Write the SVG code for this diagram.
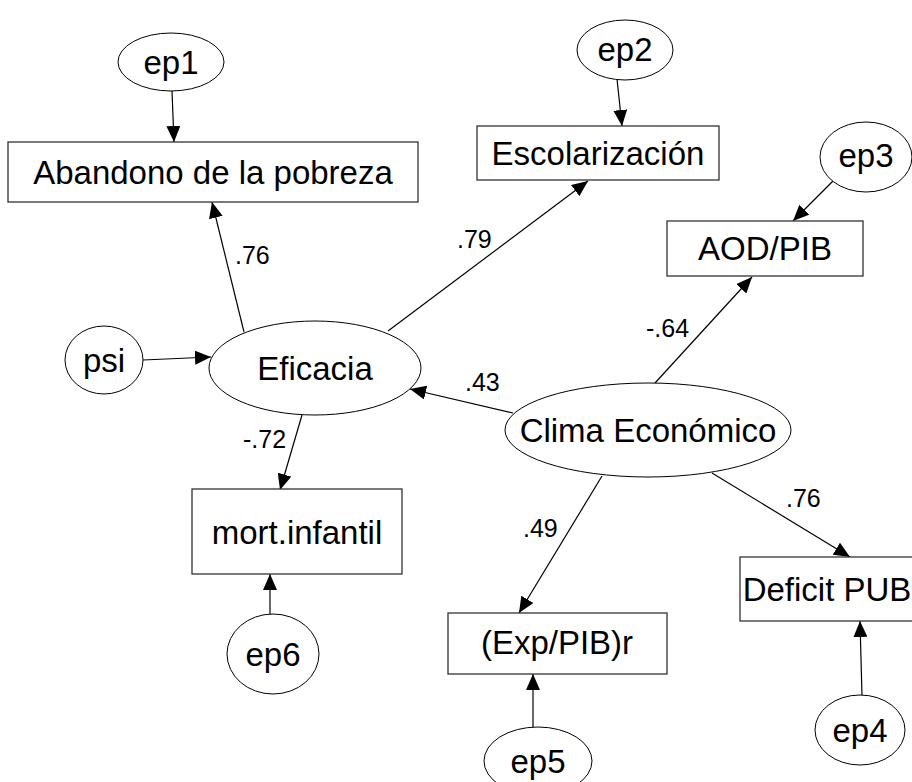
<svg xmlns="http://www.w3.org/2000/svg" width="912" height="782" viewBox="0 0 912 782">
<defs>
<marker id="ah" markerUnits="userSpaceOnUse" markerWidth="16" markerHeight="14" refX="16" refY="7" orient="auto">
<path d="M0,0 L16,7 L0,14 z" fill="#000"/>
</marker>
<style>
.n{fill:#fff;stroke:#333;stroke-width:1.3}
.e{fill:#fff;stroke:#000;stroke-width:1}
.t{font-family:"Liberation Sans",Arial,sans-serif;font-size:33px;fill:#000;text-anchor:middle}
.l{font-family:"Liberation Sans",Arial,sans-serif;font-size:25px;fill:#000}
.c{stroke:#000;stroke-width:1.2;fill:none;marker-end:url(#ah)}
</style>
</defs>
<rect width="912" height="782" fill="#fff"/>
<g id="connectors">
<line class="c" x1="172" y1="91" x2="174" y2="142"/>
<line class="c" x1="617" y1="79" x2="622" y2="126"/>
<line class="c" x1="835" y1="179" x2="793" y2="221"/>
<line class="c" x1="143" y1="360" x2="211" y2="357"/>
<line class="c" x1="244" y1="332" x2="212" y2="202"/>
<line class="c" x1="388" y1="331" x2="588" y2="181"/>
<line class="c" x1="302" y1="415" x2="280" y2="490"/>
<line class="c" x1="270" y1="614" x2="270" y2="574"/>
<line class="c" x1="513" y1="413" x2="410" y2="389"/>
<line class="c" x1="655" y1="383" x2="752" y2="277"/>
<line class="c" x1="712" y1="473" x2="850" y2="557"/>
<line class="c" x1="602" y1="476" x2="519" y2="613"/>
<line class="c" x1="862" y1="696" x2="860" y2="621"/>
<line class="c" x1="533" y1="727" x2="533" y2="674"/>
<text class="l" x="235" y="264">.76</text>
<text class="l" x="457" y="248">.79</text>
<text class="l" x="243" y="448">-.72</text>
<text class="l" x="465" y="391">.43</text>
<text class="l" x="646" y="337">-.64</text>
<text class="l" x="786" y="507">.76</text>
<text class="l" x="523" y="537">.49</text>
</g>
<g id="ep1"><ellipse class="e" cx="171" cy="62" rx="53" ry="29"/><text class="t" x="171" y="74">ep1</text></g>
<g id="abandono"><rect class="n" x="8" y="142" width="410" height="60"/><text class="t" x="213" y="184">Abandono de la pobreza</text></g>
<g id="ep2"><ellipse class="e" cx="625" cy="50" rx="48" ry="30"/><text class="t" x="625" y="61">ep2</text></g>
<g id="escolarizacion"><rect class="n" x="477" y="126" width="242" height="54"/><text class="t" x="598" y="165">Escolarización</text></g>
<g id="ep3"><ellipse class="e" cx="866" cy="157" rx="46" ry="35"/><text class="t" x="866" y="167">ep3</text></g>
<g id="aodpib"><rect class="n" x="667" y="221" width="196" height="55"/><text class="t" x="765" y="260">AOD/PIB</text></g>
<g id="psi"><ellipse class="e" cx="104" cy="360" rx="39" ry="34"/><text class="t" x="104" y="372">psi</text></g>
<g id="eficacia"><ellipse class="e" cx="315" cy="368" rx="106" ry="47"/><text class="t" x="315" y="380">Eficacia</text></g>
<g id="clima"><ellipse class="e" cx="648" cy="430" rx="143" ry="47"/><text class="t" x="648" y="442">Clima Económico</text></g>
<g id="mortinfantil"><rect class="n" x="192" y="489" width="210" height="85"/><text class="t" x="297" y="544">mort.infantil</text></g>
<g id="ep6"><ellipse class="e" cx="273" cy="654" rx="46" ry="40"/><text class="t" x="273" y="666">ep6</text></g>
<g id="deficit"><rect class="n" x="740" y="557" width="180" height="64"/><text class="t" x="827" y="601">Deficit PUB</text></g>
<g id="ep4"><ellipse class="e" cx="860" cy="730" rx="45" ry="35"/><text class="t" x="860" y="742">ep4</text></g>
<g id="exppib"><rect class="n" x="448" y="613" width="219" height="61"/><text class="t" x="557" y="654">(Exp/PIB)r</text></g>
<g id="ep5"><ellipse class="e" cx="538" cy="761" rx="54" ry="34"/><text class="t" x="538" y="773">ep5</text></g>
</svg>
